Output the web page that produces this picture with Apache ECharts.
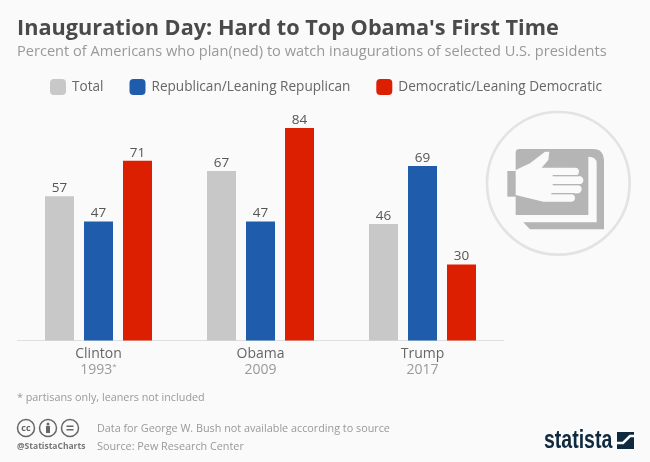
<!DOCTYPE html>
<html>
<head>
<meta charset="utf-8">
<style>
html, body { margin: 0; padding: 0; background: #fafafa; }
#chart { width: 650px; height: 462px; }
</style>
<script src="https://cdn.jsdelivr.net/npm/echarts@6/dist/echarts.min.js"></script>
</head>
<body>
<div id="chart"></div>
<script>
var presidents = ['Clinton', 'Obama', 'Trump'];
var years = ['1993*', '2009', '2017'];
var total = [57, 67, 46];
var republican = [47, 47, 69];
var democratic = [71, 84, 30];

var font = '"Open Sans", sans-serif';

// icon outlines, the graphic component needs them registered as shapes
echarts.graphic.registerShape('bookShape', echarts.graphic.extendPath('M107 158 Q107 147 118 147 L340 147 Q372 147 372 185 L372 388 L150 388 L130 367 L350 367 L350 190 Q350 170 325 170 L325 345 L107 345 Z', {}));
echarts.graphic.registerShape('handShape', echarts.graphic.extendPath('M107 210 L150 190 L195 155 L208 155 L205 180 L185 203 L285 203 Q297 204 297 214 Q297 224 290 228 L300 228 Q310 232 310 240 Q310 250 300 254 L295 254 Q305 258 305 266 Q305 276 295 280 L275 281 Q285 285 285 293 Q285 303 275 305 L190 305 L107 285 Z', {}));

function barSeries(name, values, color) {
    return {
        name: name,
        type: 'bar',
        data: values,
        barWidth: 29,
        barGap: '34.5%',
        itemStyle: { color: color },
        label: { show: true, position: 'top', distance: 1, color: '#555', fontFamily: font, fontSize: 13.5 }
    };
}

function footerText(text, x, y, size, color, weight) {
    return {
        type: 'text', x: x, y: y, silent: true,
        style: { text: text, fontFamily: font, fontSize: size, fill: color, fontWeight: weight || 'normal', textVerticalAlign: 'middle' }
    };
}

function ccBadge(x, inner) {
    return {
        type: 'group', x: x, y: 428,
        children: [{ type: 'circle', shape: { r: 8.5 }, style: { fill: 'none', stroke: '#666', lineWidth: 1.5 } }].concat(inner)
    };
}

var myChart = echarts.init(document.getElementById('chart'));
var option = {
    backgroundColor: '#fafafa',
    animation: false,
    legend: {
        left: 50, top: 79, padding: 0,
        itemWidth: 16, itemHeight: 16, itemGap: 26,
        icon: 'roundRect',
        textStyle: { color: '#666', fontFamily: font, fontSize: 13.6, padding: [0, 0, 0, 1] },
        data: ['Total', 'Republican/Leaning Repuplican', 'Democratic/Leaning Democratic']
    },
    grid: { left: 17.5, right: 146.5, top: 87.5, bottom: 121.5 },
    xAxis: {
        type: 'category',
        data: presidents,
        axisTick: { show: false },
        axisLine: { lineStyle: { color: '#dedede', width: 1 } },
        axisLabel: {
            margin: 6,
            formatter: function (value, i) {
                return '{name|' + value + '}\n{year|' + years[i].replace('*', '}{star|*') + '}';
            },
            rich: {
                name: { color: '#666', fontFamily: font, fontSize: 14, lineHeight: 16 },
                year: { color: '#999', fontFamily: font, fontSize: 14, lineHeight: 16 },
                star: { color: '#999', fontFamily: font, fontSize: 8, lineHeight: 16, verticalAlign: 'top' }
            }
        }
    },
    yAxis: { type: 'value', min: 0, max: 100, show: false },
    series: [
        barSeries('Total', total, '#c8c8c8'),
        barSeries('Republican/Leaning Repuplican', republican, '#1f5cac'),
        barSeries('Democratic/Leaning Democratic', democratic, '#dc1f00')
    ],
    graphic: [
        footerText('Inauguration Day: Hard to Top Obama\'s First Time', 17, 29, 21.7, '#4a4a4a', 'bold'),
        footerText('Percent of Americans who plan(ned) to watch inaugurations of selected U.S. presidents', 17, 52, 14.6, '#999'),
        footerText('* partisans only, leaners not included', 17, 398, 10.8, '#999'),
        footerText('Data for George W. Bush not available according to source', 97, 429, 10.8, '#999'),
        footerText('Source: Pew Research Center', 97, 447, 10.8, '#999'),
        footerText('@StatistaCharts', 17, 447, 8.5, '#777', 'bold'),
        ccBadge(26, [{ type: 'text', style: { text: 'cc', x: 0, y: 0, align: 'center', verticalAlign: 'middle', fontFamily: font, fontSize: 9, fontWeight: 'bold', fill: '#666' } }]),
        ccBadge(48, [
            { type: 'circle', shape: { cx: 0, cy: -4, r: 1.5 }, style: { fill: '#666' } },
            { type: 'rect', shape: { x: -2, y: -2, width: 4, height: 7 }, style: { fill: '#666' } }
        ]),
        ccBadge(70, [
            { type: 'rect', shape: { x: -3.5, y: -2.5, width: 7, height: 1.5 }, style: { fill: '#666' } },
            { type: 'rect', shape: { x: -3.5, y: 1, width: 7, height: 1.5 }, style: { fill: '#666' } }
        ]),
        {
            type: 'text', x: 544, y: 441, scaleX: 0.78,
            style: { text: 'statista', fontFamily: '"Liberation Sans Narrow", "Liberation Sans", sans-serif', fontSize: 25, fontWeight: 'bold', fill: '#0f2a3f', textVerticalAlign: 'middle' }
        },
        {
            type: 'group', x: 617, y: 432,
            children: [
                { type: 'rect', shape: { x: 0, y: 0, width: 17, height: 17 }, style: { fill: '#0f2a3f' } },
                { type: 'polyline', shape: { points: [[0, 11], [6, 11], [13, 4], [17, 4]] }, style: { fill: 'none', stroke: '#fafafa', lineWidth: 2.5 } }
            ]
        },
        // hand on book icon, drawn in zoomed units
        {
            type: 'group', x: 480, y: 100, scaleX: 1 / 3, scaleY: 1 / 3, silent: true,
            children: [
                { type: 'circle', shape: { cx: 235, cy: 250, r: 214 }, style: { fill: 'none', stroke: '#e3e3e3', lineWidth: 8 } },
                { type: 'bookShape', style: { fill: '#b5b5b5' } },
                { type: 'rect', shape: { x: 82, y: 213, width: 30, height: 77 }, style: { fill: '#b5b5b5' } },
                { type: 'handShape', style: { fill: '#fafafa' } },
                { type: 'rect', shape: { x: 218, y: 225, width: 80, height: 4 }, style: { fill: '#b5b5b5' } },
                { type: 'rect', shape: { x: 218, y: 252, width: 85, height: 4 }, style: { fill: '#b5b5b5' } },
                { type: 'rect', shape: { x: 214, y: 279, width: 70, height: 4 }, style: { fill: '#b5b5b5' } }
            ]
        }
    ]
};
myChart.setOption(option, true);
</script>
</body>
</html>
